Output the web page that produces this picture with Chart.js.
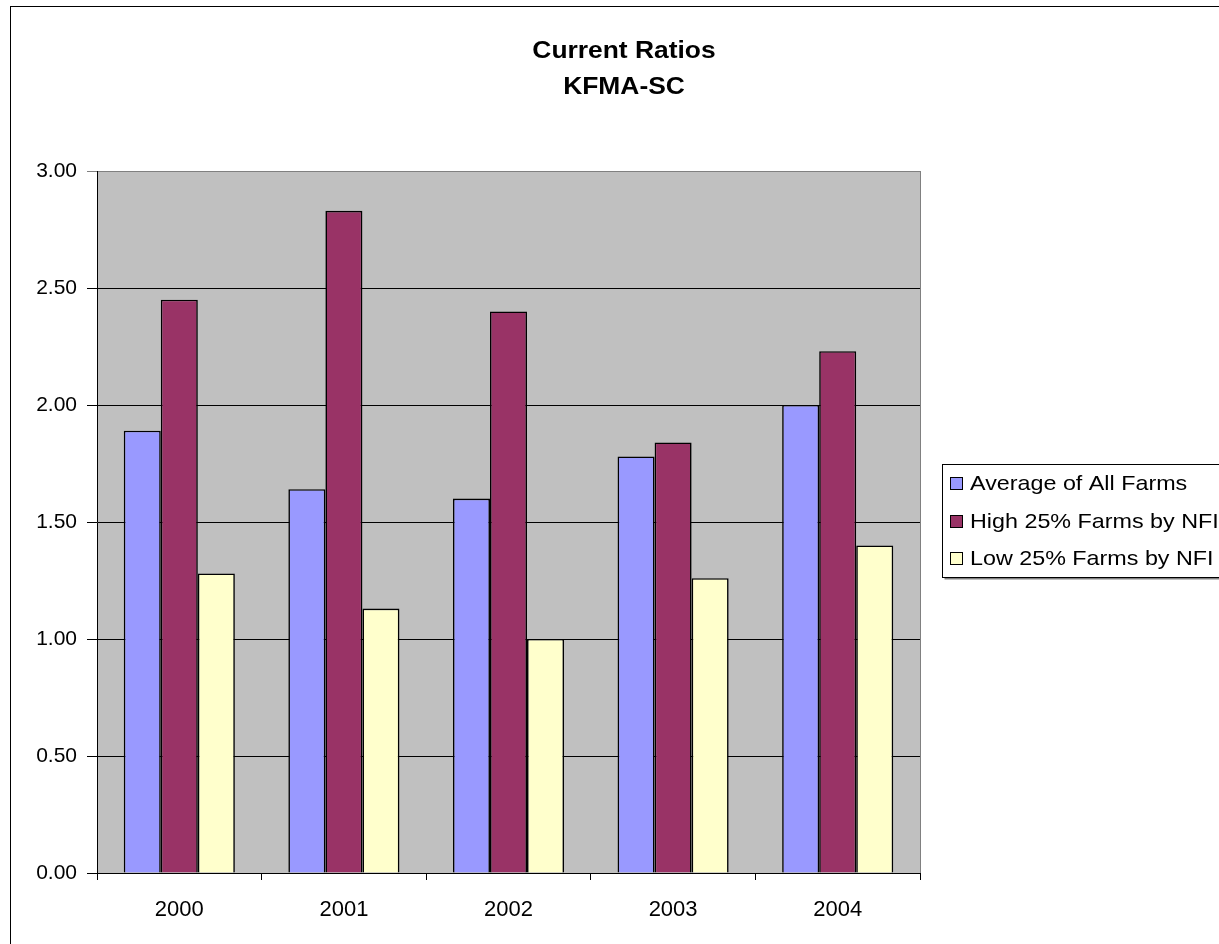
<!DOCTYPE html>
<html>
<head>
<meta charset="utf-8">
<title>Current Ratios KFMA-SC</title>
<script src="https://cdn.jsdelivr.net/npm/chart.js@4.4.1/dist/chart.umd.min.js"></script>
<style>
    html, body { margin: 0; padding: 0; background: #fff; overflow: hidden; }
    canvas { display: block; }
</style>
</head>
<body>
<canvas id="barChart" width="1219" height="944"></canvas>
<script>
// chart data
var titleLines = ['Current Ratios', 'KFMA-SC'];
var years = ['2000', '2001', '2002', '2003', '2004'];
var seriesNames = ['Average of All Farms', 'High 25% Farms by NFI', 'Low 25% Farms by NFI'];
var avgAllFarms = [1.89, 1.64, 1.60, 1.78, 2.00];
var high25Farms = [2.45, 2.83, 2.40, 1.84, 2.23];
var low25Farms = [1.28, 1.13, 1.00, 1.26, 1.40];
var seriesColors = ['#9999FF', '#993366', '#FFFFCC'];
var yMin = 0, yMax = 3, yStep = 0.5;

var FONT = "'Liberation Sans', Arial, sans-serif";

// draws text slightly stretched sideways, like the old Excel export
function wideText(ctx, text, x, y, sx) {
    ctx.save();
    ctx.translate(x, y);
    ctx.scale(sx, 1);
    ctx.fillText(text, 0, 0);
    ctx.restore();
}

// Excel-like frame, plot background, title and legend
var excelLook = {
    id: 'excelLook',
    beforeDraw: function (chart) {
        var ctx = chart.ctx, a = chart.chartArea;
        ctx.save();
        ctx.fillStyle = '#C0C0C0';
        ctx.fillRect(a.left, a.top, a.right - a.left, a.bottom - a.top);
        ctx.restore();
    },
    afterDraw: function (chart) {
        var ctx = chart.ctx, a = chart.chartArea;
        ctx.save();
        // outer chart border
        ctx.strokeStyle = '#000';
        ctx.lineWidth = 1;
        ctx.strokeRect(10.5, 6.5, 1400, 1100);

        // right edge of plot area
        ctx.strokeStyle = '#808080';
        ctx.beginPath();
        ctx.moveTo(Math.round(a.right) + 0.5, a.top);
        ctx.lineTo(Math.round(a.right) + 0.5, a.bottom);
        ctx.stroke();

        // title
        ctx.fillStyle = '#000';
        ctx.font = 'bold 24px ' + FONT;
        ctx.textAlign = 'center';
        ctx.textBaseline = 'middle';
        wideText(ctx, titleLines[0], 624, 51, 1.1);
        wideText(ctx, titleLines[1], 624, 87, 1.1);

        // legend
        var lx = 942.5, ly = 464.5;
        ctx.fillStyle = '#808080';
        ctx.fillRect(lx + 2, ly + 113, 400, 2);
        ctx.fillStyle = '#fff';
        ctx.fillRect(lx, ly, 400, 113);
        ctx.strokeStyle = '#000';
        ctx.strokeRect(lx, ly, 400, 113);
        var rows = [483, 521, 558];
        ctx.font = '21px ' + FONT;
        ctx.textAlign = 'left';
        chart.data.datasets.forEach(function (ds, i) {
            ctx.fillStyle = ds.backgroundColor;
            ctx.fillRect(950, rows[i] - 6, 12, 12);
            ctx.strokeStyle = '#000';
            ctx.strokeRect(950.5, rows[i] - 5.5, 12, 12);
            ctx.fillStyle = '#000';
            wideText(ctx, ds.label, 970, rows[i] + 1, 1.11);
        });
        ctx.restore();
    }
};

function makeDataset(label, values, color) {
    return {
        label: label,
        data: values,
        backgroundColor: color,
        borderColor: '#000000',
        borderWidth: 1.6,
        categoryPercentage: 0.675,
        barPercentage: 1.0
    };
}

document.addEventListener('DOMContentLoaded', function () {
    var ctx = document.getElementById('barChart').getContext('2d');
    new Chart(ctx, {
        type: 'bar',
        data: {
            labels: years,
            datasets: [
                makeDataset(seriesNames[0], avgAllFarms, seriesColors[0]),
                makeDataset(seriesNames[1], high25Farms, seriesColors[1]),
                makeDataset(seriesNames[2], low25Farms, seriesColors[2])
            ]
        },
        options: {
            responsive: false,
            animation: false,
            devicePixelRatio: 1,
            layout: { padding: { top: 171, right: 299, bottom: 0, left: 0 } },
            plugins: {
                legend: { display: false },
                title: { display: false },
                tooltip: { enabled: false }
            },
            scales: {
                x: {
                    afterFit: function (scale) { scale.height = 71; },
                    grid: {
                        drawOnChartArea: false,
                        drawTicks: true,
                        tickLength: 7,
                        color: '#000'
                    },
                    border: { display: true, color: '#000', width: 1 },
                    ticks: {
                        color: '#000',
                        padding: 17,
                        font: { family: FONT, size: 22 }
                    }
                },
                y: {
                    min: yMin,
                    max: yMax,
                    afterFit: function (scale) { scale.width = 97; },
                    grid: {
                        color: function (c) {
                            return (c.tick && c.tick.value === yMax) ? '#808080' : '#000000';
                        },
                        lineWidth: 1,
                        drawTicks: true,
                        tickLength: 10
                    },
                    border: { display: true, color: '#000', width: 1 },
                    ticks: {
                        stepSize: yStep,
                        color: '#000',
                        padding: 10,
                        font: { family: FONT, size: 21 },
                        callback: function (v) { return Number(v).toFixed(2); }
                    }
                }
            }
        },
        plugins: [excelLook]
    });
});
</script>
</body>
</html>
